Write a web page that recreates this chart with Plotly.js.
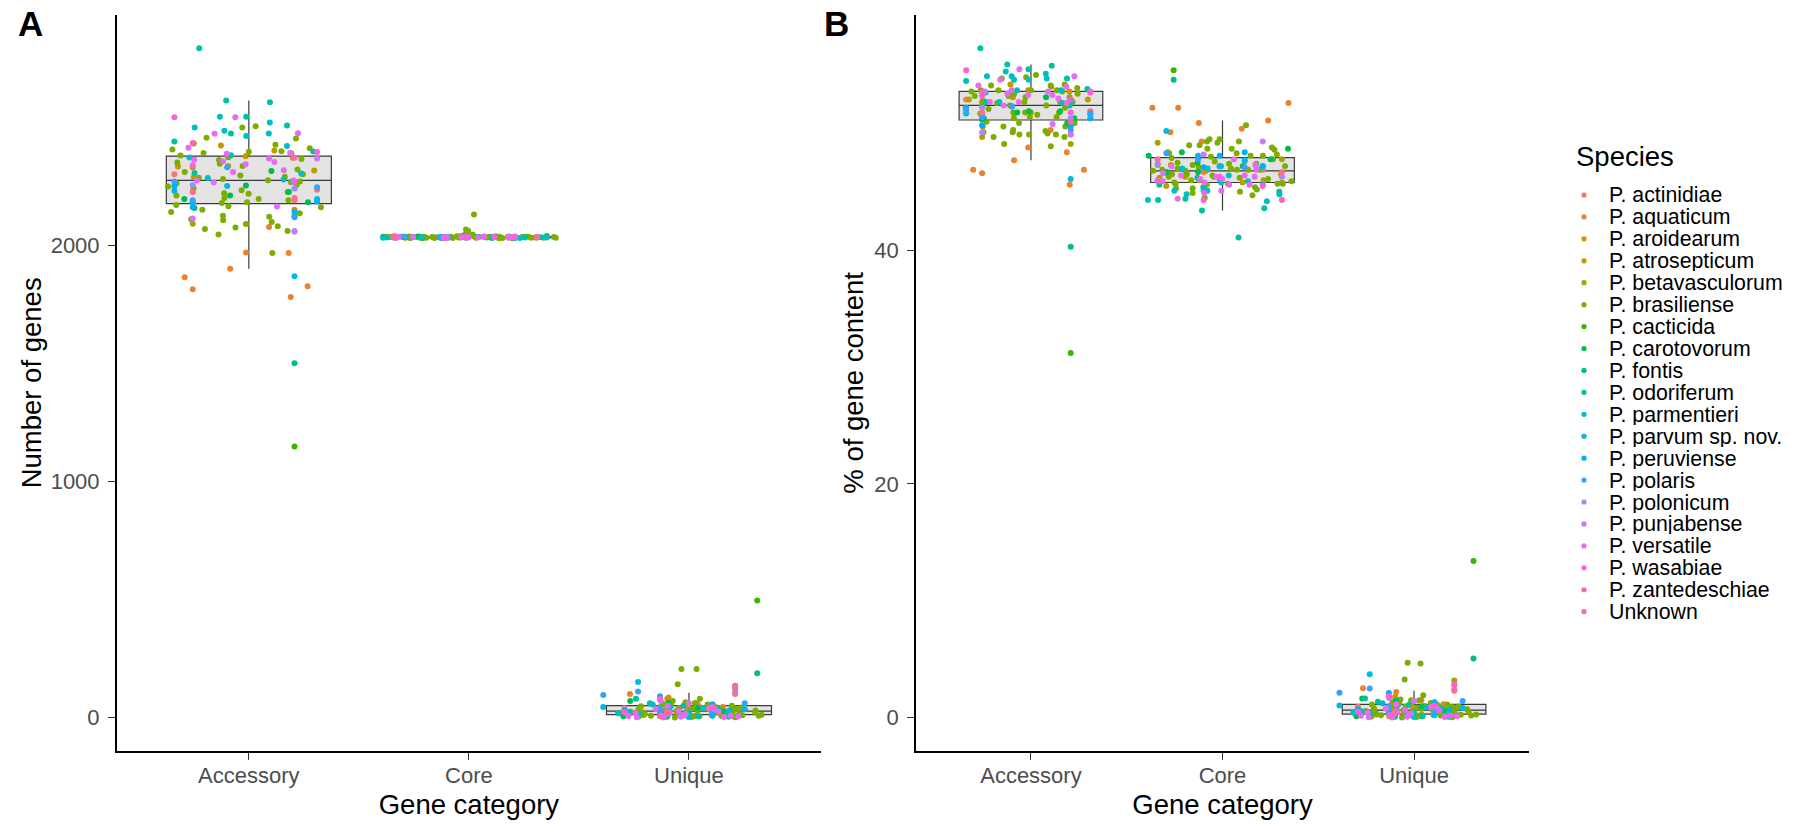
<!DOCTYPE html>
<html><head><meta charset="utf-8">
<script src="https://cdn.plot.ly/plotly-3.0.1.min.js"></script>
<style>html,body{margin:0;padding:0;background:#fff}#chart{width:1814px;height:824px}</style>
</head><body><div id="chart"></div>
<script>
const categories = ['Accessory', 'Core', 'Unique'];
const species = ['P. actinidiae','P. aquaticum','P. aroidearum','P. atrosepticum','P. betavasculorum','P. brasiliense','P. cacticida','P. carotovorum','P. fontis','P. odoriferum','P. parmentieri','P. parvum sp. nov.','P. peruviense','P. polaris','P. polonicum','P. punjabense','P. versatile','P. wasabiae','P. zantedeschiae','Unknown'];
const speciesColors = ['#F8766D','#EA8331','#D89000','#C09B00','#A3A500','#7CAE00','#39B600','#00BB4E','#00BF7D','#00C1A3','#00BFC4','#00BAE0','#00B0F6','#35A2FF','#9590FF','#C77CFF','#E76BF3','#FA62DB','#FF62BC','#FF6C91'];

// Panel A: number of genes per genome, one sub-array per species (same order as species)
const accessoryGenes = [
  [2235, 2225, 2300, 2190],
  [1967, 1969, 1900, 1864, 1813, 1780, 1826, 2077],
  [2330, 2150],
  [2376, 2335, 2266, 2370, 2316, 2422, 2401, 2333, 2288],
  [2091, 2058],
  [2503, 2498, 2452, 2455, 2430, 2425, 2410, 2405, 2398, 2395, 2390, 2388, 2380, 2372, 2365, 2360, 2350, 2345, 2335, 2320, 2310, 2300, 2295, 2290, 2285, 2280, 2275, 2270, 2262, 2255, 2248, 2240, 2232, 2225, 2218, 2210, 2200, 2195, 2190, 2182, 2178, 2170, 2165, 2160, 2150, 2140, 2135, 2125, 2120, 2110, 2105, 2098, 2090, 2080, 2075, 2068, 2060, 2045, 1967, 2220],
  [1148],
  [2314, 2253, 2225, 2122, 2210, 2195, 2182, 2157],
  [1500],
  [2834, 2612, 2605, 2544, 2507, 2473, 2439, 2397, 2306, 2270],
  [2544, 2498, 2519, 2462, 2473, 2420, 2381, 2371, 2284, 2303, 2278, 2484],
  [1868, 2250, 2195, 2180, 2230],
  [2250, 2185, 2160, 2140],
  [2270, 2190, 2118, 2245, 2330],
  [2255, 2240],
  [2113, 2367, 2060],
  [2542, 2474, 2472, 2412, 2390, 2367, 2352, 2355, 2342, 2362, 2387, 2317, 2310, 2274, 2274, 2265, 2164],
  [2541, 2394, 2338, 2268],
  [2432, 2370],
  [2225, 2200]
];
const coreGenes = [
  [2032, 2034, 2031, 2036],
  [2035, 2036, 2034, 2033, 2037, 2035, 2032, 2038],
  [2033, 2038],
  [2035, 2033, 2036, 2034, 2032, 2035, 2037, 2033, 2036],
  [2036, 2034],
  [2034, 2031, 2036, 2029, 2038, 2033, 2030, 2035, 2032, 2040, 2066, 2031, 2037, 2034, 2029, 2036, 2033, 2044, 2031, 2035, 2038, 2030, 2034, 2032, 2036, 2060, 2033, 2031, 2035, 2029, 2037, 2034, 2032, 2036, 2030, 2033, 2035, 2031, 2038, 2034, 2130, 2032, 2036, 2030, 2045, 2033, 2035, 2031, 2034, 2029, 2037, 2032, 2036, 2030, 2044, 2033, 2031, 2035, 2034, 2032],
  [2035],
  [2035, 2032, 2038, 2031, 2036, 2034, 2033, 2037],
  [2033],
  [2032, 2034, 2031, 2033, 2035, 2032, 2030, 2034, 2036, 2033],
  [2033, 2031, 2035, 2032, 2034, 2036, 2030, 2033, 2035, 2031, 2034, 2032],
  [2036, 2032, 2034, 2030, 2035],
  [2033, 2031, 2035, 2032],
  [2034, 2031, 2036, 2032, 2033],
  [2033, 2035],
  [2034, 2032, 2036],
  [2033, 2035, 2031, 2034, 2036, 2032, 2030, 2034, 2037, 2033, 2031, 2035, 2032, 2036, 2034, 2030, 2033],
  [2032, 2035, 2031, 2034],
  [2034, 2032],
  [2035, 2033]
];
const uniqueGenes = [
  [40, 75, 20, 55],
  [60, 30, 45, 100, 20, 85, 35, 15],
  [80, 120],
  [10, 25, 5, 18, 30, 12, 8, 40, 22],
  [135, 45],
  [30, 12, 45, 8, 60, 25, 5, 38, 18, 70, 2, 28, 50, 15, 33, 10, 42, 22, 6, 55, 35, 3, 20, 48, 14, 65, 9, 27, 40, 16, 4, 52, 24, 1, 36, 206, 11, 44, 19, 7, 58, 26, 141, 13, 32, 206, 21, 47, 0, 80, 17, 39, 5, 62, 23, 29, 10, 34, 8, 46],
  [495],
  [5, 62, 27, 15, 70, 3, 40, 12],
  [188],
  [80, 35, 20, 5, 50, 15, 8, 28, 60, 3],
  [25, 6, 40, 14, 2, 55, 18, 30, 9, 45, 12, 22],
  [150, 20, 35, 8, 45],
  [30, 90, 12, 55],
  [110, 25, 60, 40, 95],
  [105, 20],
  [70, 15, 35],
  [5, 20, 0, 12, 35, 8, 2, 25, 15, 40, 3, 18, 50, 7, 28, 1, 60],
  [10, 45, 22, 80],
  [130, 25],
  [100, 18]
];

// Panel B: % of gene content per genome
const accessoryPct = [
  [51.9, 51.3, 52.9, 51.2],
  [48.4, 48.8, 47.7, 46.6, 46.9, 45.6, 46.9, 50.3],
  [52.4, 49.9],
  [53.7, 53.1, 52.6, 53.6, 52.9, 54.2, 54.0, 52.9, 52.7],
  [49.1, 49.7],
  [54.8, 55.0, 54.1, 54.7, 53.7, 54.1, 54.2, 53.7, 53.9, 53.2, 53.6, 53.7, 53.3, 53.7, 53.4, 53.6, 53.1, 53.2, 53.4, 52.6, 52.7, 53.1, 52.8, 52.4, 52.7, 51.8, 52.7, 52.4, 52.2, 52.4, 52.4, 51.8, 52.1, 52.2, 51.8, 49.7, 51.8, 51.4, 51.6, 51.7, 49.9, 51.3, 49.9, 51.4, 50.9, 48.9, 50.9, 50.6, 51.0, 50.0, 50.6, 50.3, 50.6, 49.9, 50.1, 50.1, 50.2, 49.7, 49.1, 51.7],
  [31.2],
  [53.1, 51.8, 51.9, 50.9, 51.2, 51.9, 51.3, 51.3],
  [40.3],
  [57.3, 55.8, 55.9, 55.5, 54.6, 54.7, 54.5, 53.8, 52.4, 52.7],
  [55.3, 55.1, 54.9, 54.6, 54.9, 53.7, 53.7, 53.5, 52.8, 52.6, 52.7, 54.7],
  [46.1, 52.3, 51.5, 51.7, 51.7],
  [52.2, 50.7, 51.3, 50.6],
  [51.4, 51.6, 50.3, 52.0, 52.3],
  [51.3, 52.2],
  [50.1, 53.6, 49.9],
  [55.5, 54.6, 54.9, 54.1, 53.6, 53.7, 53.6, 53.4, 53.3, 53.3, 54.0, 53.0, 52.6, 52.7, 52.4, 52.7, 50.8],
  [55.4, 53.5, 53.2, 51.8],
  [52.9, 53.5],
  [51.0, 51.8]
];
const corePct = [
  [47.2, 46.9, 46.7, 47.6],
  [50.1, 50.4, 51.1, 50.9, 52.6, 52.2, 52.2, 49.3],
  [45.8, 47.3],
  [46.0, 46.3, 47.3, 46.0, 46.5, 45.5, 45.8, 46.2, 46.8],
  [47.8, 49.2],
  [44.5, 44.7, 44.9, 45.2, 45.0, 45.3, 45.7, 45.4, 45.7, 45.3, 46.3, 45.7, 45.6, 46.0, 45.8, 46.2, 45.9, 46.3, 46.5, 46.1, 46.5, 46.9, 46.8, 46.5, 47.0, 46.8, 47.1, 46.9, 46.9, 47.2, 47.5, 47.0, 47.4, 47.8, 47.4, 45.7, 47.9, 47.6, 48.0, 48.2, 48.8, 48.1, 46.9, 48.3, 48.4, 46.4, 48.6, 48.3, 49.0, 48.1, 49.0, 48.7, 49.3, 48.7, 49.3, 49.2, 49.5, 49.5, 50.7, 47.3],
  [55.4],
  [46.7, 46.7, 47.5, 48.7, 47.2, 48.1, 47.8, 48.4],
  [54.6],
  [41.1, 43.4, 43.6, 44.4, 44.3, 45.0, 45.4, 45.6, 46.2, 47.2],
  [44.2, 44.8, 44.3, 45.1, 45.1, 45.1, 45.9, 45.8, 47.0, 46.4, 47.0, 44.8],
  [50.2, 47.2, 47.7, 48.1, 47.2],
  [47.1, 47.2, 48.4, 48.1],
  [46.1, 47.8, 48.3, 47.1, 45.6],
  [46.3, 47.4],
  [48.2, 46.0, 49.3],
  [44.4, 44.9, 45.1, 45.6, 45.6, 46.1, 46.3, 46.1, 46.4, 45.8, 45.9, 46.6, 46.3, 47.2, 46.9, 47.3, 47.8],
  [44.3, 45.5, 46.3, 46.4],
  [44.3, 45.9],
  [46.7, 47.8]
];
const uniquePct = [
  [0.93, 1.73, 0.46, 1.28],
  [1.48, 0.74, 1.13, 2.50, 0.52, 2.18, 0.90, 0.36],
  [1.80, 2.79],
  [0.23, 0.57, 0.12, 0.41, 0.68, 0.27, 0.18, 0.91, 0.51],
  [3.17, 1.09],
  [0.66, 0.26, 0.99, 0.18, 1.33, 0.56, 0.11, 0.85, 0.40, 1.55, 0.04, 0.63, 1.12, 0.34, 0.75, 0.23, 0.95, 0.50, 0.14, 1.25, 0.80, 0.07, 0.46, 1.10, 0.32, 1.48, 0.21, 0.62, 0.92, 0.37, 0.09, 1.20, 0.56, 0.02, 0.84, 4.63, 0.26, 1.03, 0.45, 0.17, 1.33, 0.61, 3.25, 0.31, 0.76, 4.70, 0.50, 1.12, 0.0, 1.90, 0.41, 0.94, 0.12, 1.49, 0.56, 0.70, 0.24, 0.83, 0.20, 1.07],
  [13.4],
  [0.11, 1.43, 0.63, 0.36, 1.62, 0.07, 0.94, 0.29],
  [5.05],
  [1.62, 0.75, 0.43, 0.11, 1.09, 0.33, 0.18, 0.63, 1.36, 0.07],
  [0.54, 0.13, 0.87, 0.31, 0.04, 1.22, 0.41, 0.68, 0.21, 1.03, 0.28, 0.48],
  [3.70, 0.46, 0.82, 0.19, 1.04],
  [0.70, 2.09, 0.29, 1.30],
  [2.49, 0.59, 1.42, 0.93, 2.13],
  [2.39, 0.47],
  [1.66, 0.34, 0.85],
  [0.11, 0.44, 0.0, 0.27, 0.78, 0.18, 0.05, 0.57, 0.34, 0.90, 0.07, 0.41, 1.14, 0.16, 0.65, 0.02, 1.41],
  [0.22, 1.01, 0.50, 1.83],
  [2.83, 0.56],
  [2.29, 0.42]
];

const W = 1814, H = 824;
const px = x => x / W;
const py = y => 1 - y / H;

function buildTraces(groups, xa, ya) {
  const traces = [];
  const bx = [], by = [];
  groups.forEach((g, ci) => g.forEach(arr => arr.forEach(v => { bx.push(categories[ci]); by.push(v); })));
  // summary box: whiskers at 1.5 IQR (outlier markers hidden, the species points show them)
  traces.push({
    type: 'box', x: bx, y: by, xaxis: xa, yaxis: ya, boxpoints: 'outliers',
    marker: { color: 'rgba(0,0,0,0)', size: 1, opacity: 0, line: { width: 0 } },
    width: 0.75, whiskerwidth: 0, fillcolor: '#e3e3e3',
    line: { color: '#3a3a3a', width: 1.2 }, showlegend: false, hoverinfo: 'skip'
  });
  species.forEach((sp, si) => {
    const x = [], y = [];
    groups.forEach((g, ci) => g[si].forEach(v => { x.push(categories[ci]); y.push(v); }));
    traces.push({
      type: 'box', name: sp, x: x, y: y, xaxis: xa, yaxis: ya,
      boxpoints: 'all', jitter: 1, pointpos: 0, width: 0.8,
      fillcolor: 'rgba(0,0,0,0)', line: { width: 0, color: speciesColors[si] },
      marker: { color: speciesColors[si], size: 6, opacity: 1 },
      showlegend: false, hoverinfo: 'y+name'
    });
  });
  return traces;
}

function maxOf(groups) {
  let m = -Infinity;
  groups.forEach(g => g.forEach(a => a.forEach(v => { if (v > m) m = v; })));
  return m;
}

const groupsA = [accessoryGenes, coreGenes, uniqueGenes];
const groupsB = [accessoryPct, corePct, uniquePct];
const maxA = maxOf(groupsA), maxB = maxOf(groupsB);

const data = buildTraces(groupsA, 'x', 'y').concat(buildTraces(groupsB, 'x2', 'y2'));

const fontFam = 'Liberation Sans, Arial, Helvetica, sans-serif';
const tickFont = { family: fontFam, size: 22, color: '#4d4d4d' };
const titleFont = { family: fontFam, size: 27.5, color: '#000' };

function xAxis(domain, anchor) {
  return {
    domain: domain, anchor: anchor, type: 'category', categoryorder: 'array', categoryarray: categories,
    range: [-0.6, 2.6], showline: true, linecolor: '#000', linewidth: 1.6,
    ticks: 'outside', ticklen: 7, tickwidth: 1.3, tickcolor: '#333', tickfont: tickFont,
    ticklabelstandoff: -3,
    showgrid: false, zeroline: false, fixedrange: true,
    title: { text: 'Gene category', font: titleFont, standoff: 8 }
  };
}
function yAxis(anchor, maxv, tickvals, title, standoff) {
  return {
    domain: [py(751), py(14.7)], anchor: anchor, range: [-0.05 * maxv, 1.05 * maxv],
    tickvals: tickvals, showline: true, linecolor: '#000', linewidth: 1.6,
    ticks: 'outside', ticklen: 7, tickwidth: 1.3, tickcolor: '#333', tickfont: tickFont,
    ticklabelstandoff: 4,
    showgrid: false, zeroline: false, fixedrange: true,
    title: { text: title, font: titleFont, standoff: standoff }
  };
}

const tagFont = { family: fontFam, size: 35, color: '#000' };
const annotations = [
  { text: '<b>A</b>', x: px(30.5), y: py(23), xref: 'paper', yref: 'paper', xanchor: 'center', yanchor: 'middle', showarrow: false, font: tagFont },
  { text: '<b>B</b>', x: px(836), y: py(23), xref: 'paper', yref: 'paper', xanchor: 'center', yanchor: 'middle', showarrow: false, font: tagFont },
  { text: 'Species', x: px(1574), y: py(157), xref: 'paper', yref: 'paper', xanchor: 'left', yanchor: 'middle', showarrow: false, font: titleFont }
];
const shapes = [];
species.forEach((sp, i) => {
  const yy = 195 + i * 21.93;
  annotations.push({ text: sp, x: px(1607), y: py(yy), xref: 'paper', yref: 'paper', xanchor: 'left', yanchor: 'middle', height: 21, valign: 'middle', showarrow: false, font: { family: fontFam, size: 21.3, color: '#000' } });
  shapes.push({ type: 'circle', xref: 'paper', yref: 'paper', xsizemode: 'pixel', ysizemode: 'pixel', xanchor: px(1584), yanchor: py(yy), x0: -2.6, x1: 2.6, y0: -2.6, y1: 2.6, fillcolor: speciesColors[i], line: { width: 0 } });
});

const layout = {
  width: W, height: H, margin: { l: 0, r: 0, t: 0, b: 0 },
  paper_bgcolor: '#fff', plot_bgcolor: 'rgba(0,0,0,0)',
  font: { family: fontFam, color: '#000' },
  boxmode: 'overlay', showlegend: false, hovermode: 'closest',
  xaxis: xAxis([px(116.8), px(821)], 'y'),
  yaxis: yAxis('x', maxA, [0, 1000, 2000], 'Number of genes', 1),
  xaxis2: xAxis([px(916), px(1529)], 'y2'),
  yaxis2: yAxis('x2', maxB, [0, 20, 40], '% of gene content', 3),
  annotations: annotations, shapes: shapes
};

Plotly.newPlot('chart', data, layout, { displayModeBar: false, responsive: false });
</script>
</body></html>
